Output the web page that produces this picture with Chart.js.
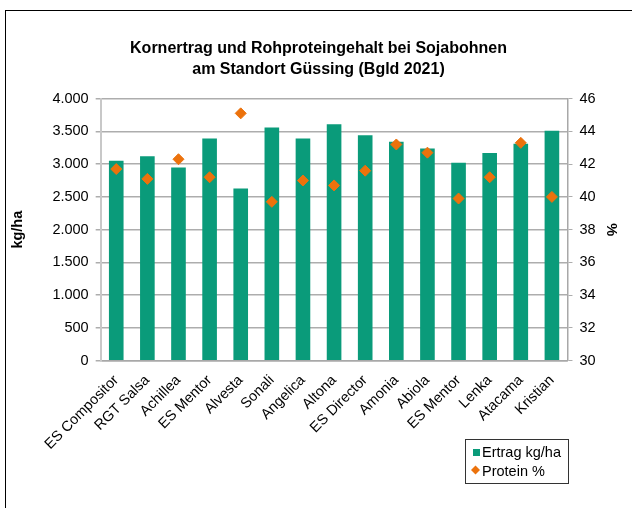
<!DOCTYPE html>
<html>
<head>
<meta charset="utf-8">
<script src="https://cdn.jsdelivr.net/npm/chart.js@4"></script>
<style>
  html, body { margin: 0; padding: 0; background: #fff; overflow: hidden; }
  #wrap { position: relative; width: 632px; height: 508px; }
  #frame { position: absolute; left: 5px; top: 10px; width: 700px; height: 600px; border: 1.5px solid #000; }
  canvas { position: absolute; left: 0; top: 0; }
</style>
</head>
<body>
<div id="wrap">
  <div id="frame"></div>
  <canvas id="chart" width="632" height="508"></canvas>
</div>
<script>
const sorten = ['ES Compositor', 'RGT Salsa', 'Achillea', 'ES Mentor', 'Alvesta', 'Sonali', 'Angelica', 'Altona',
  'ES Director', 'Amonia', 'Abiola', 'ES Mentor', 'Lenka', 'Atacama', 'Kristian'];
const ertrag = [3050, 3120, 2950, 3390, 2630, 3560, 3390, 3610, 3440, 3340, 3240, 3020, 3170, 3310, 3510];
const protein = [41.7, 41.1, 42.3, 41.2, 45.1, 39.7, 41.0, 40.7, 41.6, 43.2, 42.7, 39.9, 41.2, 43.3, 40.0];

const gruen = '#0A9B7A';
const orange = '#EC720C';
const schrift = '"Liberation Sans", Arial, sans-serif';
const groesse = 14.5;

function tausender(v) {
  return String(v).replace(/\B(?=(\d{3})+(?!\d))/g, '.');
}

// eigene Legende unten rechts mit Rahmen
const legendeBox = {
  id: 'legendeBox',
  afterDraw(chart) {
    const ctx = chart.ctx;
    const x = 465, y = 439, w = 103, h = 44;
    ctx.save();
    ctx.strokeStyle = '#333';
    ctx.lineWidth = 1;
    ctx.strokeRect(x + 0.5, y + 0.5, w, h);
    ctx.fillStyle = gruen;
    ctx.fillRect(x + 8, y + 10, 7, 7);
    ctx.fillStyle = orange;
    ctx.beginPath();
    ctx.moveTo(x + 10.5, y + 26.5);
    ctx.lineTo(x + 15, y + 31);
    ctx.lineTo(x + 10.5, y + 35.5);
    ctx.lineTo(x + 6, y + 31);
    ctx.closePath();
    ctx.fill();
    ctx.fillStyle = '#000';
    ctx.font = groesse + 'px ' + schrift;
    ctx.textBaseline = 'middle';
    ctx.fillText('Ertrag kg/ha', x + 17, y + 14);
    ctx.fillText('Protein %', x + 17, y + 33);
    ctx.restore();
  }
};

new Chart(document.getElementById('chart').getContext('2d'), {
  data: {
    labels: sorten,
    datasets: [{
      type: 'line',
      label: 'Protein %',
      data: protein,
      yAxisID: 'yP',
      showLine: false,
      pointStyle: 'rectRot',
      pointRadius: 5.5,
      pointBackgroundColor: orange,
      pointBorderColor: orange,
      order: 0
    }, {
      type: 'bar',
      label: 'Ertrag kg/ha',
      data: ertrag,
      yAxisID: 'y',
      backgroundColor: gruen,
      barPercentage: 0.47,
      categoryPercentage: 1,
      order: 1
    }]
  },
  options: {
    responsive: false,
    animation: false,
    layout: { padding: { left: 5, right: 0, top: 38, bottom: 52 } },
    plugins: {
      legend: { display: false },
      tooltip: { enabled: false },
      title: {
        display: true,
        text: ['Kornertrag und Rohproteingehalt bei Sojabohnen', 'am Standort Güssing (Bgld 2021)'],
        color: '#000',
        font: { family: schrift, size: 16, weight: 'bold', lineHeight: 1.3 },
        padding: { top: 0, bottom: 19 }
      }
    },
    scales: {
      x: {
        grid: { display: false },
        border: { color: '#A8A8A8', width: 1.5 },
        ticks: {
          color: '#000',
          maxRotation: 45,
          minRotation: 45,
          autoSkip: false,
          font: { family: schrift, size: groesse }
        }
      },
      y: {
        position: 'left',
        min: 0,
        max: 4000,
        ticks: {
          stepSize: 500,
          color: '#000',
          padding: 7,
          font: { family: schrift, size: groesse },
          callback: v => tausender(v)
        },
        grid: { color: '#ADADAD', lineWidth: 1.5, tickLength: 5 },
        border: { color: '#C8C8C8', width: 2 },
        title: {
          display: true,
          text: 'kg/ha',
          color: '#000',
          padding: { top: 4, bottom: 19 },
          font: { family: schrift, size: groesse, weight: 'bold' }
        }
      },
      yP: {
        position: 'right',
        min: 30,
        max: 46,
        ticks: {
          stepSize: 2,
          color: '#000',
          padding: 7,
          font: { family: schrift, size: groesse }
        },
        grid: { drawOnChartArea: false, color: '#ADADAD', tickLength: 5 },
        border: { color: '#A8A8A8', width: 1.5 },
        title: {
          display: true,
          text: '%',
          color: '#000',
          padding: { top: 12, bottom: 0 },
          font: { family: schrift, size: groesse, weight: 'bold' }
        }
      }
    }
  },
  plugins: [legendeBox]
});
</script>
</body>
</html>
